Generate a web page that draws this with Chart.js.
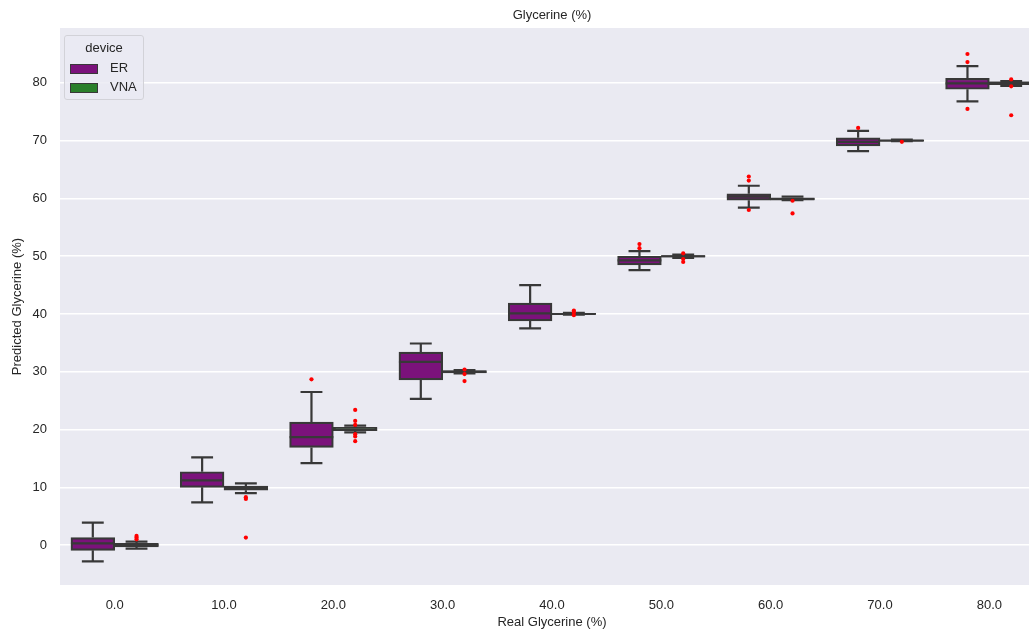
<!DOCTYPE html>
<html>
<head>
<meta charset="utf-8">
<script src="https://cdn.jsdelivr.net/npm/chart.js@4"></script>
<style>
  body { margin: 0; background: #fff; overflow: hidden; }
  #frame { position: relative; width: 1029px; height: 631px; overflow: hidden; }
  /* the axes run past the right edge of the figure, so the canvas is wider than the frame */
  #wrap { position: absolute; left: 0; top: 0; width: 1048px; height: 631px; }
  .legend {
    position: absolute; left: 64px; top: 35px; width: 78px; height: 63px;
    border: 1px solid #d2d2d8; border-radius: 3px; background: rgba(234,234,242,0.8);
    font-family: 'Liberation Sans', Arial, sans-serif; font-size: 13px; color: #262626;
  }
  .legend .ttl { position: absolute; left: 0; width: 78px; top: 4px; text-align: center; }
  .legend .row { position: absolute; left: 5px; height: 15px; line-height: 15px; }
  .legend .sw { display: inline-block; width: 26px; height: 8px; border: 1.5px solid #383838; vertical-align: middle; }
  .legend .lb { position: absolute; left: 40px; top: 0; }
</style>
</head>
<body>
<div id="frame">
  <div id="wrap"><canvas id="chart"></canvas></div>
  <div class="legend">
    <div class="ttl">device</div>
    <div class="row" style="top:24px"><span class="sw" style="background:#7b127b"></span><span class="lb">ER</span></div>
    <div class="row" style="top:43px"><span class="sw" style="background:#2a7f2a"></span><span class="lb">VNA</span></div>
  </div>
</div>
<script>
const categories = ['0.0', '10.0', '20.0', '30.0', '40.0', '50.0', '60.0', '70.0', '80.0'];
const yTicks = [0, 10, 20, 30, 40, 50, 60, 70, 80];

// ER box stats
const erLow  = [-2.8, 7.4, 14.2, 25.3, 37.5, 47.6, 58.4, 68.2, 76.8];
const erQ1   = [-0.9, 10.0, 16.9, 28.6, 38.8, 48.5, 59.7, 69.1, 78.9];
const erMed  = [0.3, 11.2, 18.7, 31.7, 40.1, 49.3, 60.3, 69.8, 79.9];
const erQ3   = [1.3, 12.7, 21.3, 33.4, 41.9, 50.0, 60.8, 70.5, 80.8];
const erHigh = [3.9, 15.2, 26.5, 34.9, 45.0, 50.9, 62.2, 71.7, 82.9];
const erOut  = [[], [], [28.7], [], [], [52.1, 51.4], [63.8, 63.1, 58.0], [72.2], [85.0, 83.6, 75.5]];

// VNA box stats
const vnLow  = [-0.6, 9.0, 19.5, 29.7, 39.9, 49.7, 59.7, 69.9, 79.5];
const vnQ1   = [-0.3, 9.5, 19.8, 29.8, 39.95, 49.85, 59.8, 69.95, 79.7];
const vnMed  = [0.0, 9.9, 20.0, 30.0, 40.0, 50.0, 59.9, 70.0, 80.0];
const vnQ3   = [0.3, 10.2, 20.4, 30.2, 40.1, 50.1, 60.1, 70.1, 80.2];
const vnHigh = [0.6, 10.7, 20.7, 30.3, 40.2, 50.3, 60.3, 70.2, 80.3];
const vnOut  = [[1.6, 1.3, 1.0], [8.3, 8.0, 1.3], [23.4, 21.5, 20.8, 19.2, 18.8, 18.0], [30.4, 29.6, 28.4],
                [40.6, 40.3, 39.8], [50.5, 49.5, 49.0], [59.6, 57.4], [69.8], [80.6, 79.4, 74.4]];

const EDGE = '#383838';
const FONT = "'Liberation Sans', Arial, sans-serif";
const TXT = '#262626';
const DODGE = 0.2;   // hue offset of each box from its category

const boxes = (q1, q3, shift) => q1.map((q, i) => ({x: i + shift, y: [q, q3[i]]}));
const fliers = [];
erOut.forEach((vals, i) => vals.forEach(v => fliers.push({x: i - DODGE, y: v})));
vnOut.forEach((vals, i) => vals.forEach(v => fliers.push({x: i + DODGE, y: v})));

const plotBg = {
    id: 'plotBg',
    beforeDraw(chart){
        const {ctx, chartArea: a} = chart;
        ctx.save();
        ctx.fillStyle = '#eaeaf2';
        ctx.fillRect(a.left, a.top, a.right - a.left, a.bottom - a.top);
        ctx.restore();
    }
};

// whiskers, caps and median drawn on top of each floating bar
const whiskers = {
    id: 'whiskers',
    afterDatasetDraw(chart, args){
        const ds = chart.data.datasets[args.index];
        if (!ds.stats) return;
        const y = chart.scales.y;
        const c = chart.ctx;
        const s = ds.stats;
        c.save();
        c.strokeStyle = EDGE;
        c.lineWidth = 2.2;
        args.meta.data.forEach((bar, i) => {
            const x = bar.x, half = bar.width / 2;
            const lo = y.getPixelForValue(s.low[i]);
            const hi = y.getPixelForValue(s.high[i]);
            const q1 = y.getPixelForValue(s.q1[i]);
            const q3 = y.getPixelForValue(s.q3[i]);
            const md = y.getPixelForValue(s.med[i]);
            c.beginPath();
            c.moveTo(x, q3); c.lineTo(x, hi);
            c.moveTo(x, q1); c.lineTo(x, lo);
            c.moveTo(x - half / 2, hi); c.lineTo(x + half / 2, hi);
            c.moveTo(x - half / 2, lo); c.lineTo(x + half / 2, lo);
            c.moveTo(x - half, md); c.lineTo(x + half, md);
            c.stroke();
        });
        c.restore();
    }
};

const ctx = document.getElementById('chart');
new Chart(ctx, {
    type: 'bar',
    data: {
        datasets: [
            {
                type: 'bar', label: 'ER', order: 1,
                data: boxes(erQ1, erQ3, -DODGE),
                stats: {low: erLow, q1: erQ1, med: erMed, q3: erQ3, high: erHigh},
                backgroundColor: '#7b127b', borderColor: EDGE, borderWidth: 2.2, borderSkipped: false,
                grouped: false, categoryPercentage: 1.0, barPercentage: 1.0
            },
            {
                type: 'bar', label: 'VNA', order: 1,
                data: boxes(vnQ1, vnQ3, DODGE),
                stats: {low: vnLow, q1: vnQ1, med: vnMed, q3: vnQ3, high: vnHigh},
                backgroundColor: '#2a7f2a', borderColor: EDGE, borderWidth: 2.2, borderSkipped: false,
                grouped: false, categoryPercentage: 1.0, barPercentage: 1.0
            },
            {
                type: 'scatter', label: 'outliers', order: 0,
                data: fliers,
                pointRadius: 2.1, pointBorderWidth: 0, backgroundColor: '#ff0000'
            }
        ]
    },
    options: {
        responsive: true,
        maintainAspectRatio: false,
        animation: false,
        events: [],
        layout: {padding: {left: 0, right: 1, top: 0, bottom: 0}},
        plugins: {
            legend: {display: false},
            tooltip: {enabled: false},
            title: {
                display: true, text: 'Glycerine (%)', color: TXT, fullSize: false,
                font: {family: FONT, size: 13, weight: 'normal'},
                padding: {top: 8, bottom: 4.4}
            }
        },
        scales: {
            x: {
                type: 'linear', min: -0.5, max: 8.5, offset: false,
                grid: {display: false, drawTicks: false},
                border: {display: false},
                afterBuildTicks(scale){ scale.ticks = categories.map((c, i) => ({value: i})); },
                ticks: {color: TXT, font: {family: FONT, size: 13}, padding: 13, maxRotation: 0,
                        callback: v => categories[v]},
                title: {display: true, text: 'Real Glycerine (%)', color: TXT,
                        font: {family: FONT, size: 13}, padding: {top: 0, bottom: 1.2}},
                afterFit(scale){ scale.height = 46; }
            },
            y: {
                type: 'linear', min: -6.9, max: 89.5,
                grid: {color: '#ffffff', lineWidth: 1.6, drawTicks: false},
                border: {display: false},
                ticks: {color: TXT, font: {family: FONT, size: 13}, padding: 13},
                afterBuildTicks(scale){ scale.ticks = yTicks.map(v => ({value: v})); },
                title: {display: true, text: 'Predicted Glycerine (%)', color: TXT,
                        font: {family: FONT, size: 13}, padding: {top: 9.2, bottom: 0}},
                afterFit(scale){ scale.width = 60; }
            }
        }
    },
    plugins: [plotBg, whiskers]
});
</script>
</body>
</html>
